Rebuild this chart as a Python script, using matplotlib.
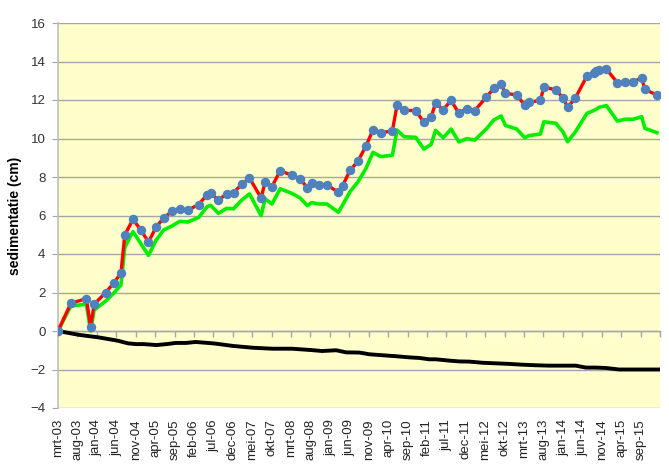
import matplotlib
matplotlib.use("Agg")
import matplotlib.pyplot as plt

# x = months after mrt-03
months_meting = [0, 3.3, 7.3, 8.4, 9.3, 12.3, 14.3, 16.2, 17.2, 19.3, 21.3, 23.3, 25.3, 27.2,
                 29.3, 31.4, 33.4, 36.2, 38.4, 39.3, 41.3, 43.4, 45.2, 47.3, 49.3, 52.3, 53.3,
                 55.1, 57.2, 60.2, 62.3, 64.2, 65.3, 67.2, 69.2, 72.2, 73.3, 75.2, 77.2, 79.3,
                 81.1, 83.1, 86.1, 87.3, 89.1, 92.1, 94.2, 96.1, 97.2, 99.2, 101.2, 103.2, 105.2,
                 107.3, 110.2, 112.2, 114.1, 115.2, 118.1, 120.2, 121.2, 124.2, 125.1, 128.2,
                 130.1, 131.2, 133.2, 136.2, 137.9, 138.6, 139.3, 141.2, 144.0, 146.1, 148.1,
                 150.3, 151.1, 154.2]

sedimentatie = [0, 1.44, 1.68, 0.22, 1.39, 2.0, 2.48, 3.0, 4.99, 5.8, 5.26, 4.62, 5.42, 5.86,
                6.22, 6.32, 6.27, 6.57, 7.08, 7.17, 6.79, 7.13, 7.18, 7.62, 7.95, 6.91, 7.72,
                7.5, 8.33, 8.09, 7.9, 7.45, 7.69, 7.6, 7.6, 7.2, 7.55, 8.35, 8.81, 9.61,
                10.45, 10.29, 10.4, 11.74, 11.46, 11.45, 10.84, 11.13, 11.83, 11.5, 11.98, 11.32, 11.55,
                11.45, 12.13, 12.6, 12.81, 12.35, 12.26, 11.72, 11.88, 11.98, 12.68, 12.52,
                12.09, 11.62, 12.1, 13.25, 13.38, 13.49, 13.56, 13.61, 12.9, 12.95, 12.95,
                13.14, 12.55, 12.26]

ophoging = [0, 1.3, 1.39, 0.0, 1.09, 1.56, 1.96, 2.39, 4.35, 5.16, 4.55, 3.93, 4.73, 5.25,
            5.45, 5.7, 5.66, 5.9, 6.46, 6.53, 6.11, 6.37, 6.35, 6.8, 7.12, 5.99, 6.87,
            6.6, 7.39, 7.15, 6.92, 6.51, 6.67, 6.6, 6.6, 6.17, 6.55, 7.24, 7.74, 8.45,
            9.28, 9.06, 9.13, 10.44, 10.09, 10.06, 9.45, 9.7, 10.42, 10.04, 10.49, 9.82, 9.99,
            9.92, 10.48, 10.96, 11.17, 10.68, 10.49, 10.04, 10.15, 10.23, 10.87, 10.79,
            10.32, 9.83, 10.34, 11.31, 11.45, 11.52, 11.62, 11.71, 10.91, 11.0, 11.0,
            11.13, 10.53, 10.3]

months_bodem = [0, 5.4, 10.4, 15.3, 18, 20, 22, 25.4, 28, 30.3, 33, 35.4, 38.6, 40.3, 45.2,
                50.2, 55.2, 60.2, 65.2, 68, 71.6, 74.2, 77.6, 80.2, 83.6, 87, 90.5, 93, 95.6,
                97.3, 100.8, 103.3, 105.9, 109.3, 112.8, 116.2, 119.6, 123, 126.5, 129.9,
                133.3, 135.9, 138.5, 141, 144.5, 147, 154.5]
bodem = [0, -0.2, -0.33, -0.5, -0.64, -0.68, -0.68, -0.73, -0.68, -0.62, -0.62, -0.57, -0.62,
         -0.65, -0.78, -0.87, -0.92, -0.92, -0.99, -1.04, -1.0, -1.11, -1.12, -1.21, -1.26,
         -1.31, -1.37, -1.4, -1.47, -1.47, -1.54, -1.58, -1.59, -1.65, -1.68, -1.71, -1.75,
         -1.78, -1.8, -1.8, -1.8, -1.9, -1.9, -1.92, -2.0, -2.0, -2.0]

tick_labels = ["mrt-03", "aug-03", "jan-04", "jun-04", "nov-04", "apr-05", "sep-05", "feb-06",
               "jul-06", "dec-06", "mei-07", "okt-07", "mrt-08", "aug-08", "jan-09", "jun-09",
               "nov-09", "apr-10", "sep-10", "feb-11", "jul-11", "dec-11", "mei-12", "okt-12",
               "mrt-13", "aug-13", "jan-14", "jun-14", "nov-14", "apr-15", "sep-15"]
tick_pos = [5 * i for i in range(len(tick_labels))]

plt.rcParams["font.family"] = ["Liberation Sans", "DejaVu Sans"]

fig = plt.figure(figsize=(6.69, 4.68), dpi=100)
ax = fig.add_axes([58 / 669, 1 - 408 / 468, 602 / 669, 385 / 468])
ax.set_facecolor("#FFFFCC")

ax.set_xlim(0, 155)
ax.set_ylim(-4, 16)
ax.set_yticks(range(-4, 17, 2))
ax.grid(axis="y", color="#A6A6A6", linewidth=1)
ax.set_axisbelow(True)

ax.plot(months_bodem, bodem, color="black", linewidth=2.8, zorder=3)
ax.plot(months_meting, ophoging, color="#00EE00", linewidth=2.6, zorder=3)
ax.plot(months_meting, sedimentatie, color="#FF0000", linewidth=2.4, zorder=4,
        marker="o", markersize=5.8, markerfacecolor="#4F81BD", markeredgecolor="#4F81BD")

for s in ["top", "right", "bottom"]:
    ax.spines[s].set_visible(False)
ax.spines["left"].set_color("#BFBFBF")
ax.spines["left"].set_linewidth(1.2)

ax.set_xticks(tick_pos)
ax.set_xticklabels(tick_labels, rotation=90, fontsize=9.5, color="#222222")
ax.tick_params(axis="x", length=0, pad=8)
ax.tick_params(axis="y", length=4, color="#A6A6A6", labelsize=9.5, labelcolor="#333333", pad=5)

# x axis line with ticks crossing at 0
sec = ax.secondary_xaxis(0.2)
sec.set_xticks(tick_pos + [155])
sec.set_xticklabels([])
sec.tick_params(axis="x", direction="out", length=4, color="#A6A6A6", width=1)
sec.spines["bottom"].set_color("#A6A6A6")
sec.spines["bottom"].set_linewidth(1)

ax.set_ylabel("sedimentatie (cm)", fontsize=10, fontweight="bold", labelpad=6)

fig.savefig("out.png", dpi=100)
